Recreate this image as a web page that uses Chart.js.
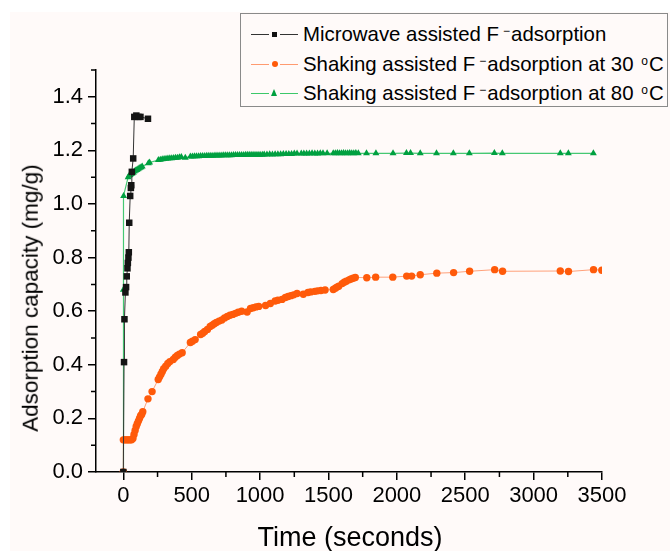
<!DOCTYPE html>
<html>
<head>
<meta charset="utf-8">
<script src="https://cdn.jsdelivr.net/npm/chart.js@4/dist/chart.umd.min.js"></script>
<style>
  html, body { margin:0; padding:0; background:#ffffff; }
  #wrap { position:relative; width:670px; height:551px; overflow:hidden; }
  #bg { position:absolute; left:10px; top:12px; width:660px; height:539px; background:#fffaf9; }
  #c { position:absolute; left:0; top:0; }
  .title { position:absolute; font-family:"Liberation Sans", Arial, sans-serif; color:#000; white-space:nowrap; line-height:1; }
  #xtitle { left:350px; top:537px; font-size:27px; transform:translate(-50%,-50%); }
  #ytitle { left:31px; top:298px; font-size:22.5px; transform:translate(-50%,-50%) rotate(-90deg); }
  #legend { position:absolute; left:240px; top:13px; width:428px; height:94px; box-sizing:border-box;
            border:1px solid #8a8a8a; background:#fffaf9; font-family:"Liberation Sans", Arial, sans-serif;
            font-size:20.4px; color:#000; }
  .row { position:absolute; left:0; height:28px; width:100%; }
  .seg { position:absolute; height:1px; top:14px; }
  .txt { position:absolute; left:62px; top:2px; white-space:nowrap; line-height:24px; }
  .txt sup { font-size:12px; vertical-align:top; position:relative; top:-3px; }
  sup.m { margin:0 1px 0 4px; }
  sup.d { margin:0 1px 0 2px; }
</style>
</head>
<body>
<div id="wrap">
  <div id="bg"></div>
  <canvas id="c" width="670" height="551"></canvas>
  <div class="title" id="xtitle">Time (seconds)</div>
  <div class="title" id="ytitle">Adsorption capacity (mg/g)</div>
  <div id="legend">
    <div class="row" style="top:6px">
      <div class="seg" style="left:10px;width:18px;background:#333"></div>
      <div style="position:absolute;left:31px;top:12px;width:5px;height:5px;background:#111"></div>
      <div class="seg" style="left:39px;width:18px;background:#333"></div>
      <div class="txt">Microwave assisted F<sup class="m">&#8722;</sup>adsorption</div>
    </div>
    <div class="row" style="top:36px">
      <div class="seg" style="left:10px;width:18px;background:#ff9a70"></div>
      <div style="position:absolute;left:31px;top:11px;width:6px;height:6px;border-radius:50%;background:#ff5a0a"></div>
      <div class="seg" style="left:39px;width:18px;background:#ff9a70"></div>
      <div class="txt">Shaking assisted F<sup class="m">&#8722;</sup>adsorption at 30 <sup class="d">o</sup>C</div>
    </div>
    <div class="row" style="top:65px">
      <div class="seg" style="left:10px;width:18px;background:#3cc86a"></div>
      <div style="position:absolute;left:30px;top:10px;width:0;height:0;border-left:3.5px solid transparent;border-right:3.5px solid transparent;border-bottom:7px solid #00a040"></div>
      <div class="seg" style="left:39px;width:18px;background:#3cc86a"></div>
      <div class="txt">Shaking assisted F<sup class="m">&#8722;</sup>adsorption at 80 <sup class="d">o</sup>C</div>
    </div>
  </div>
</div>
<script>
// ---- Data ----
const xTickValues = [0, 500, 1000, 1500, 2000, 2500, 3000, 3500];
const xMinorTicks = [250, 750, 1250, 1750, 2250, 2750, 3250];
const yTickValues = [0, 0.2, 0.4, 0.6, 0.8, 1.0, 1.2, 1.4];
const yMinorTicks = [0.1, 0.3, 0.5, 0.7, 0.9, 1.1, 1.3, 1.5];

const microwaveTime = [0, 5, 8, 15, 20, 25, 30, 33, 37, 40, 43, 50, 55, 58, 62, 72, 80, 95, 110, 125, 180];
const microwaveCap  = [0, 0.41, 0.57, 0.67, 0.69, 0.73, 0.76, 0.78, 0.80, 0.82, 0.93, 1.03, 1.06, 1.07, 1.12, 1.17, 1.325, 1.33, 1.325, 1.325, 1.318];

const shake30Time = [
  0, 0, 10, 20, 30, 40, 50, 60,
  70, 78, 86, 94, 102, 110, 118, 126, 134, 142,
  180, 210,
  255, 265, 275, 285, 295, 310, 325, 340,
  365, 380, 395, 410, 430,
  490, 505, 525,
  565, 580, 595, 615,
  635, 650, 665, 680, 700, 720,
  740, 760, 780, 800, 820, 840, 865,
  905, 930, 950, 970, 990,
  1040, 1075, 1110, 1130, 1160,
  1185, 1205, 1225, 1245, 1270,
  1316, 1350, 1370, 1400, 1420, 1445, 1475,
  1535, 1550, 1562, 1575, 1600, 1615, 1630, 1650, 1665, 1680, 1696,
  1780, 1845, 1970, 2072, 2108, 2171, 2292, 2415, 2532, 2715, 2773, 3195, 3255, 3438, 3499
];
const shake30Cap = [
  0, 0.12, 0.12, 0.12, 0.12, 0.12, 0.12, 0.12,
  0.125, 0.14, 0.155, 0.17, 0.18, 0.19, 0.20, 0.21, 0.215, 0.225,
  0.273, 0.30,
  0.345, 0.355, 0.365, 0.375, 0.385, 0.395, 0.405, 0.412,
  0.42, 0.428, 0.435, 0.44, 0.445,
  0.483, 0.488, 0.494,
  0.513, 0.518, 0.524, 0.532,
  0.543, 0.548, 0.553, 0.558, 0.563, 0.567,
  0.575, 0.58, 0.585, 0.588, 0.592, 0.596, 0.60,
  0.597, 0.61, 0.613, 0.616, 0.618,
  0.621, 0.629, 0.638, 0.641, 0.644,
  0.651, 0.655, 0.658, 0.661, 0.666,
  0.663, 0.67, 0.672, 0.674, 0.676, 0.677, 0.679,
  0.681, 0.686, 0.69, 0.693, 0.703, 0.708, 0.712, 0.717, 0.72, 0.723, 0.726,
  0.725, 0.727, 0.727, 0.731, 0.731, 0.736, 0.742, 0.744, 0.749, 0.755, 0.749, 0.75, 0.748, 0.755, 0.753
];

const shake80Time = [
  0, 0, 2,
  35, 42, 50, 58, 66, 74, 82, 90, 98, 106, 114, 122, 130, 138,
  183, 192,
  256, 270, 284, 298, 312, 326, 340, 354, 368, 382, 396, 410, 424,
  453,
  490, 505, 520, 535, 550, 565, 580, 595, 610, 625, 640, 655, 670, 685, 700, 715, 730, 745,
  760, 775, 790, 805, 820, 835, 850, 865, 880, 895, 910, 925, 940, 955, 970, 985, 1000, 1016,
  1030, 1050, 1070, 1090, 1110, 1130, 1150, 1170, 1190, 1210, 1230, 1250, 1270,
  1301, 1320, 1340, 1360, 1380, 1400, 1420, 1440, 1460, 1490,
  1535, 1550, 1565, 1580, 1595, 1610, 1625, 1640, 1655, 1670, 1685, 1700, 1718,
  1778, 1847, 1972, 2070, 2100, 2171, 2290, 2413, 2530, 2713, 2771, 3195, 3254, 3437
];
const shake80Cap = [
  0, 0.68, 1.03,
  1.100, 1.105, 1.108, 1.112, 1.115, 1.118, 1.122, 1.125, 1.127, 1.130, 1.132, 1.135, 1.137, 1.140,
  1.152, 1.155,
  1.164, 1.165, 1.167, 1.168, 1.169, 1.170, 1.171, 1.171, 1.172, 1.173, 1.173, 1.174, 1.175,
  1.173,
  1.177, 1.177, 1.178, 1.178, 1.178, 1.179, 1.179, 1.179, 1.180, 1.180, 1.180, 1.180, 1.181, 1.181, 1.181, 1.181, 1.182, 1.182,
  1.182, 1.182, 1.182, 1.183, 1.183, 1.183, 1.183, 1.183, 1.183, 1.184, 1.184, 1.184, 1.184, 1.184, 1.184, 1.184, 1.184, 1.184,
  1.185, 1.185, 1.186, 1.185, 1.186, 1.186, 1.186, 1.187, 1.187, 1.187, 1.187, 1.188, 1.188,
  1.188, 1.188, 1.188, 1.188, 1.189, 1.188, 1.188, 1.189, 1.189, 1.189,
  1.189, 1.189, 1.190, 1.189, 1.189, 1.190, 1.189, 1.189, 1.190, 1.189, 1.189, 1.190, 1.189,
  1.189, 1.189, 1.189, 1.190, 1.190, 1.189, 1.189, 1.189, 1.189, 1.190, 1.189, 1.189, 1.189, 1.189
];

const FONT = '"Liberation Sans", Arial, sans-serif';
const pts = (xs, ys) => xs.map((x, i) => ({ x: x, y: ys[i] }));

const minorTicks = {
  id: 'minorTicks',
  afterDraw(chart) {
    const ctx = chart.ctx, xs = chart.scales.x, ys = chart.scales.y;
    const a = chart.chartArea;
    ctx.save();
    ctx.strokeStyle = '#000';
    ctx.lineWidth = 1.5;
    ctx.beginPath();
    xMinorTicks.forEach(v => { const px = xs.getPixelForValue(v); ctx.moveTo(px, a.bottom); ctx.lineTo(px, a.bottom + 5); });
    yMinorTicks.forEach(v => { const py = ys.getPixelForValue(v); ctx.moveTo(a.left, py); ctx.lineTo(a.left - 5, py); });
    ctx.stroke();
    ctx.restore();
  }
};

new Chart(document.getElementById('c'), {
  type: 'scatter',
  data: {
    datasets: [
      { label: 'Microwave assisted F- adsorption', data: pts(microwaveTime, microwaveCap), showLine: true,
        borderColor: '#333333', borderWidth: 1, pointStyle: 'rect', pointRadius: 4.6,
        pointBackgroundColor: '#141414', pointBorderWidth: 0 },
      { label: 'Shaking assisted F- adsorption at 30 °C', data: pts(shake30Time, shake30Cap), showLine: true,
        borderColor: '#ffa07a', borderWidth: 1, pointStyle: 'circle', pointRadius: 3.7,
        pointBackgroundColor: '#ff5a0a', pointBorderWidth: 0 },
      { label: 'Shaking assisted F- adsorption at 80 °C', data: pts(shake80Time, shake80Cap), showLine: true,
        borderColor: '#45c873', borderWidth: 1.2, pointStyle: 'triangle', pointRadius: 4,
        pointBackgroundColor: '#00a040', pointBorderWidth: 0 }
    ]
  },
  options: {
    responsive: false,
    animation: false,
    layout: { padding: { left: 10, top: 70, right: 68, bottom: 0 } },
    plugins: { legend: { display: false }, tooltip: { enabled: false } },
    scales: {
      x: {
        type: 'linear', min: -200, max: 3500,
        afterBuildTicks: s => { s.ticks = xTickValues.map(v => ({ value: v })); },
        afterFit: s => { s.height = 79; },
        ticks: { font: { family: FONT, size: 22 }, color: '#000', padding: 3, maxRotation: 0, autoSkip: false,
                 callback: v => String(v) },
        grid: { drawOnChartArea: false, color: '#000', tickLength: 8, lineWidth: 1.5 },
        border: { color: '#000', width: 1.5 },
        title: { display: false }
      },
      y: {
        type: 'linear', min: 0, max: 1.5,
        afterBuildTicks: s => { s.ticks = yTickValues.map(v => ({ value: v })); },
        afterFit: s => { s.width = 86; },
        ticks: { font: { family: FONT, size: 22 }, color: '#000', padding: 5, autoSkip: false,
                 callback: v => Number(v).toFixed(1) },
        grid: { drawOnChartArea: false, color: '#000', tickLength: 8, lineWidth: 1.5 },
        border: { color: '#000', width: 1.5 },
        title: { display: false }
      }
    }
  },
  plugins: [minorTicks]
});
</script>
</body>
</html>
